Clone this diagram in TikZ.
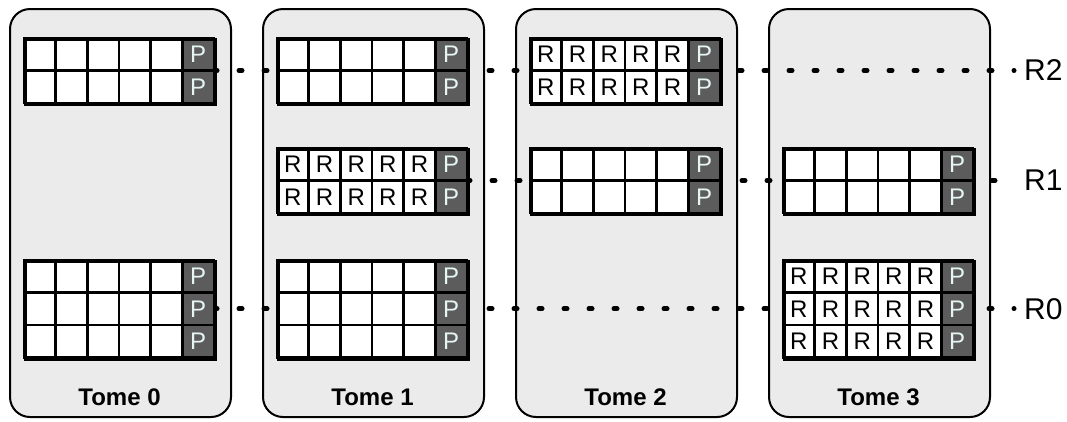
\documentclass[tikz,border=0pt]{standalone}
\usepackage{fontspec}
\setmainfont{Liberation Sans}
\definecolor{panelgray}{HTML}{EBEBEB}
\definecolor{pgray}{HTML}{5C5C5C}
\definecolor{ptext}{HTML}{E6F4F4}
\tikzset{
  panel/.style={draw=black, line width=2pt, fill=panelgray, rounded corners=20pt,
    minimum width=221pt, minimum height=408pt, anchor=north west, inner sep=0pt},
  tomelabel/.style={font=\fontsize{24}{28}\selectfont\bfseries, inner sep=0pt},
  cellbox/.style={draw=black, line width=2.6pt, fill=white, minimum width=31.67pt,
    minimum height=32.5pt, inner sep=0pt, font=\fontsize{24}{28}\selectfont},
  pbox/.style={cellbox, fill=pgray, text=ptext},
  gridframe/.style={draw=black, line width=3pt, inner sep=0pt, anchor=north west},
  dotline/.style={line width=5pt, line cap=round, dash pattern=on 3pt off 22pt},
  rlabel/.style={font=\fontsize{30}{34}\selectfont, anchor=west, inner sep=0pt}
}
\newcommand\cellgrid[5]{%
  \foreach \rr in {1,...,#4}{%
    \foreach \cc in {0,...,4}{%
      \node[cellbox] at ({#2+15.83+31.67*\cc},{#3+32.5*\rr-16.25}) {#5};
    }
    \node[pbox] at ({#2+15.83+31.67*5},{#3+32.5*\rr-16.25}) {P};
  }
  \node[gridframe, minimum width=190pt, minimum height={32.5pt*#4}] (#1) at (#2,#3) {};
}
\begin{document}
\begin{tikzpicture}[x=1pt,y=-1pt]
\useasboundingbox (0,0) rectangle (1067,421);
% panels
\node[panel] (t0) at (9,8) {};
\node[panel] (t1) at (262,8) {};
\node[panel] (t2) at (515,8) {};
\node[panel] (t3) at (768,8) {};
\node[tomelabel] (l0) at (119.5,397) {Tome 0};
\node[tomelabel] (l1) at (372.5,397) {Tome 1};
\node[tomelabel] (l2) at (625.5,397) {Tome 2};
\node[tomelabel] (l3) at (878.5,397) {Tome 3};
% labels
\node[rlabel] (r2) at (1024,70.5) {R2};
\node[rlabel] (r1) at (1024,180.5) {R1};
\node[rlabel] (r0) at (1024,308.75) {R0};
% anchor coordinates for line starts
\coordinate (s2) at (214,70.5);
\coordinate (s1) at (467,180.5);
\coordinate (s0) at (214,308.75);
\draw[dotline, shorten >=10pt] (s2) -- (r2.west);
\draw[dotline, shorten >=10pt] (s1) -- (r1.west);
\draw[dotline, shorten >=10pt] (s0) -- (r0.west);
% grids
\cellgrid{g0a}{24}{38}{2}{}
\cellgrid{g0c}{24}{260}{3}{}
\cellgrid{g1a}{277}{38}{2}{}
\cellgrid{g1b}{277}{148}{2}{R}
\cellgrid{g1c}{277}{260}{3}{}
\cellgrid{g2a}{530}{38}{2}{R}
\cellgrid{g2b}{530}{148}{2}{}
\cellgrid{g3b}{783}{148}{2}{}
\cellgrid{g3c}{783}{260}{3}{R}
\end{tikzpicture}
\end{document}
